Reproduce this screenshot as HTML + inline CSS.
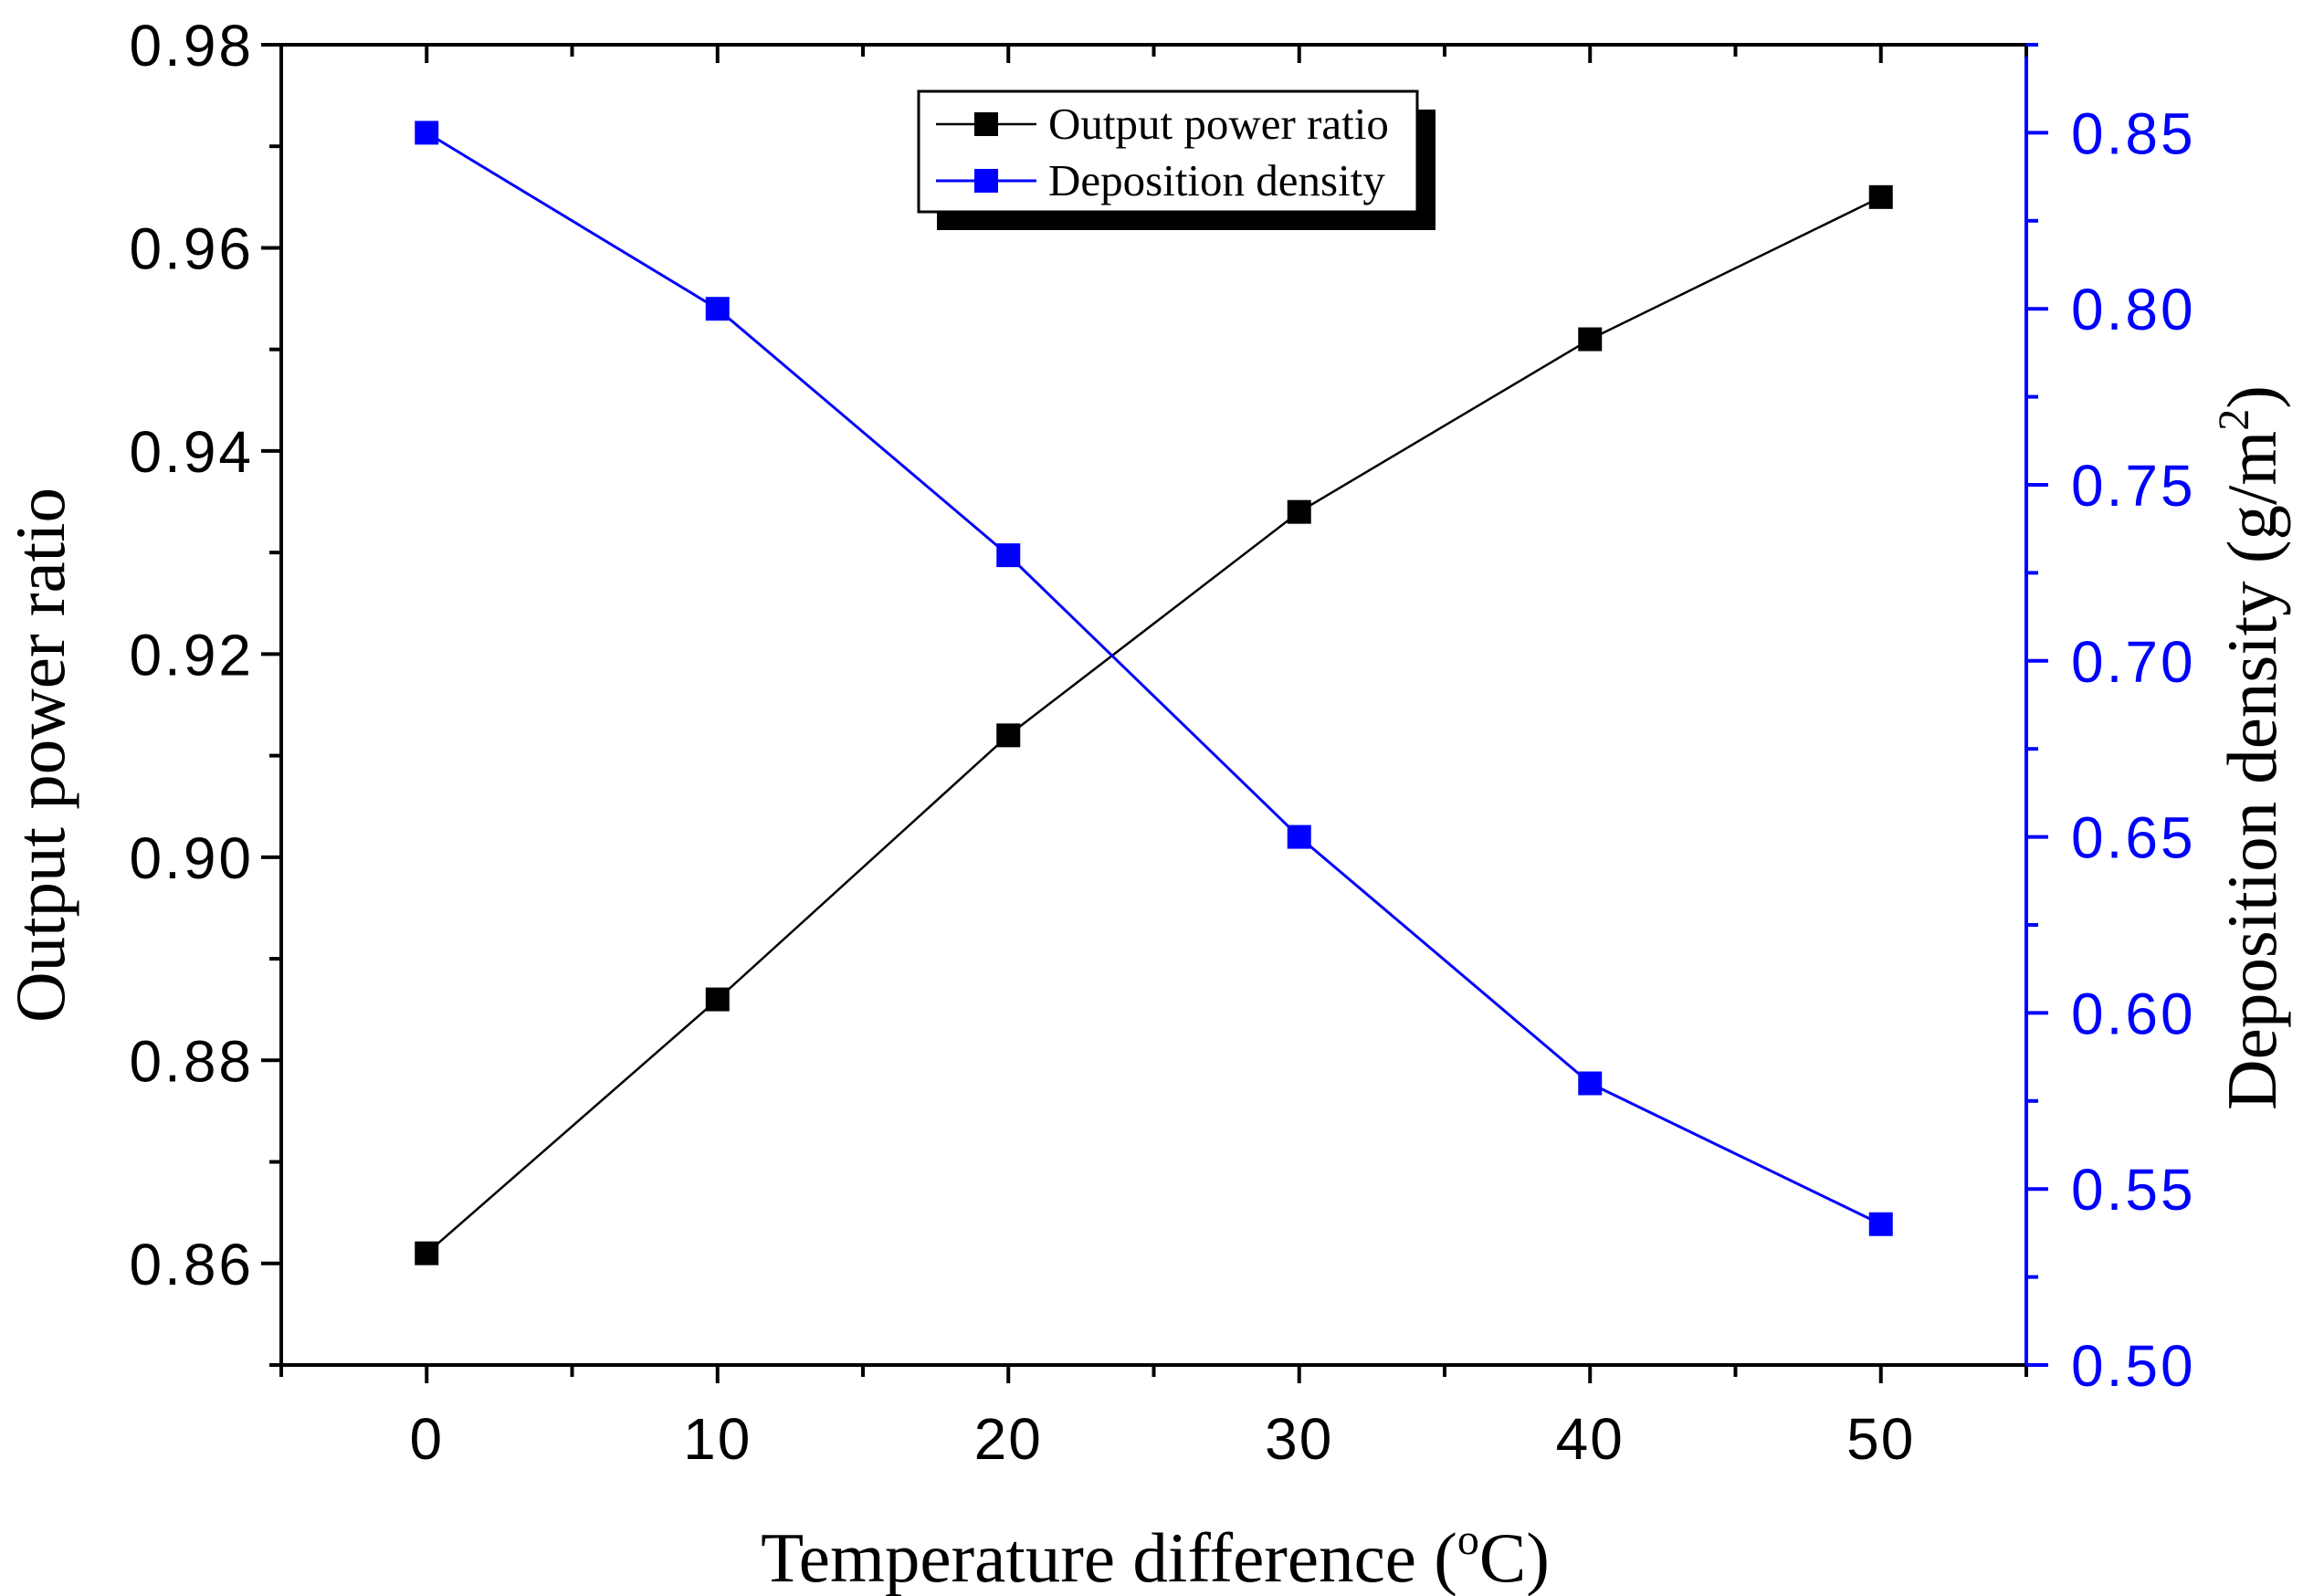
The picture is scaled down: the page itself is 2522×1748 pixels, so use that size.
<!DOCTYPE html>
<html><head><meta charset="utf-8"><style>
html,body{margin:0;padding:0;background:#fff;}
svg{display:block;}
</style></head><body>
<svg id="chart" width="2522" height="1748" viewBox="0 0 2522 1748" xmlns="http://www.w3.org/2000/svg">
<rect x="0" y="0" width="2522" height="1748" fill="#fff"/>
<g id="axes"></g>
<g id="series"></g>
<g id="legend">
  <rect x="1026" y="120" width="546" height="132" fill="#000"/>
  <rect x="1006" y="100" width="546" height="132" fill="#fff" stroke="#000" stroke-width="3"/>
  <g>
    <line x1="1025" y1="136" x2="1135" y2="136" stroke="#000" stroke-width="2.5"/>
    <rect x="1067" y="123" width="26" height="26" fill="#000"/>
    <text x="1148" y="152" font-family="Liberation Serif, serif" font-size="49">Output power ratio</text>
  </g>
  <g>
    <line x1="1025" y1="198" x2="1135" y2="198" stroke="#00f" stroke-width="3"/>
    <rect x="1067" y="185" width="26" height="26" fill="#00f"/>
    <text x="1148" y="214" font-family="Liberation Serif, serif" font-size="49">Deposition density</text>
  </g>
</g>
<text x="1265" y="1732" text-anchor="middle" font-family="Liberation Serif, serif" font-size="77">Temperature difference (<tspan dy="-30" font-size="48">o</tspan><tspan dy="30">C)</tspan></text>
<text transform="translate(70,827) rotate(-90)" text-anchor="middle" font-family="Liberation Serif, serif" font-size="77">Output power ratio</text>
<text transform="translate(2492,819) rotate(-90)" text-anchor="middle" font-family="Liberation Serif, serif" font-size="77">Deposition density (g/m<tspan dy="-30" font-size="48">2</tspan><tspan dy="30">)</tspan></text>
</svg>
<script>
const xCategories = [0, 10, 20, 30, 40, 50];
const powerRatio = [0.861, 0.886, 0.912, 0.934, 0.951, 0.965];
const depositionDensity = [0.85, 0.80, 0.73, 0.65, 0.58, 0.54];
const xTicks = [0, 10, 20, 30, 40, 50];
const leftTicks = ["0.86", "0.88", "0.90", "0.92", "0.94", "0.96", "0.98"];
const rightTicks = ["0.50", "0.55", "0.60", "0.65", "0.70", "0.75", "0.80", "0.85"];

const NS = "http://www.w3.org/2000/svg";
const L = 308, R = 2219, T = 49, B = 1495;
const xMin = -5, xMax = 55, lMin = 0.85, lMax = 0.98, rMin = 0.5, rMax = 0.875;
function sx(v){ return L + (v - xMin) / (xMax - xMin) * (R - L); }
function syL(v){ return B - (v - lMin) / (lMax - lMin) * (B - T); }
function syR(v){ return B - (v - rMin) / (rMax - rMin) * (B - T); }
function mk(tag, attrs, parent){
  const e = document.createElementNS(NS, tag);
  for (const k in attrs) e.setAttribute(k, attrs[k]);
  parent.appendChild(e);
  return e;
}
const axes = document.getElementById('axes');
const series = document.getElementById('series');
const TF = 'Liberation Sans, Arial, sans-serif';

let ax = mk('line', {x1:L, y1:T, x2:L, y2:B, stroke:'#000', 'stroke-width':4}, axes);


ax = mk('line', {x1:L-2, y1:B, x2:R, y2:B, stroke:'#000', 'stroke-width':4}, axes);


ax = mk('line', {x1:L-2, y1:T, x2:R, y2:T, stroke:'#000', 'stroke-width':4}, axes);


ax = mk('line', {x1:R, y1:T, x2:R, y2:B+2, stroke:'#00f', 'stroke-width':4}, axes);



for (let v = xMin; v <= xMax; v += 5){
  const major = (v % 10 === 0);
  const x = sx(v);
  mk('line', {x1:x, y1:B, x2:x, y2:B + (major?20:13), stroke:'#000', 'stroke-width':4}, axes);
  mk('line', {x1:x, y1:T, x2:x, y2:T + (major?20:13), stroke:'#000', 'stroke-width':4}, axes);
}
xTicks.forEach(v => {
  const t = mk('text', {x:sx(v), y:1598, 'text-anchor':'middle', 'font-family':TF, 'font-size':64, 'letter-spacing':2}, axes);
  t.textContent = String(v);
  
  
});
for (let i = 0; i < 14; i++){
  const v = 0.85 + i * 0.01;
  const y = syL(v);
  const major = (i % 2 === 1);
  mk('line', {x1:L, y1:y, x2:L - (major?22:13), y2:y, stroke:'#000', 'stroke-width':4}, axes);
}
leftTicks.forEach(s => {
  const t = mk('text', {x:278, y:syL(parseFloat(s)) + 23, 'text-anchor':'end', 'font-family':TF, 'font-size':64, 'letter-spacing':3}, axes);
  t.textContent = s;
  
  
});
for (let i = 0; i <= 15; i++){
  const v = 0.5 + i * 0.025;
  const y = syR(v);
  const major = (i % 2 === 0);
  mk('line', {x1:R, y1:y, x2:R + (major?24:13), y2:y, stroke:'#00f', 'stroke-width':4}, axes);
}
rightTicks.forEach(s => {
  const t = mk('text', {x:2268, y:syR(parseFloat(s)) + 23, 'text-anchor':'start', fill:'#00f', 'font-family':TF, 'font-size':64, 'letter-spacing':3}, axes);
  t.textContent = s;
  
  
});

const pPts = xCategories.map((c,i) => sx(c) + ',' + syL(powerRatio[i])).join(' ');
const pl = mk('polyline', {points:pPts, fill:'none', stroke:'#000', 'stroke-width':2.5}, series);


const dPts = xCategories.map((c,i) => sx(c) + ',' + syR(depositionDensity[i])).join(' ');
const dl = mk('polyline', {points:dPts, fill:'none', stroke:'#00f', 'stroke-width':3}, series);


xCategories.forEach((c,i) => {
  const m = mk('rect', {x:sx(c)-13, y:syL(powerRatio[i])-13, width:26, height:26, fill:'#000'}, series);
  
  
  const n = mk('rect', {x:sx(c)-13, y:syR(depositionDensity[i])-13, width:26, height:26, fill:'#00f'}, series);
  
  
});
</script>
</body></html>
